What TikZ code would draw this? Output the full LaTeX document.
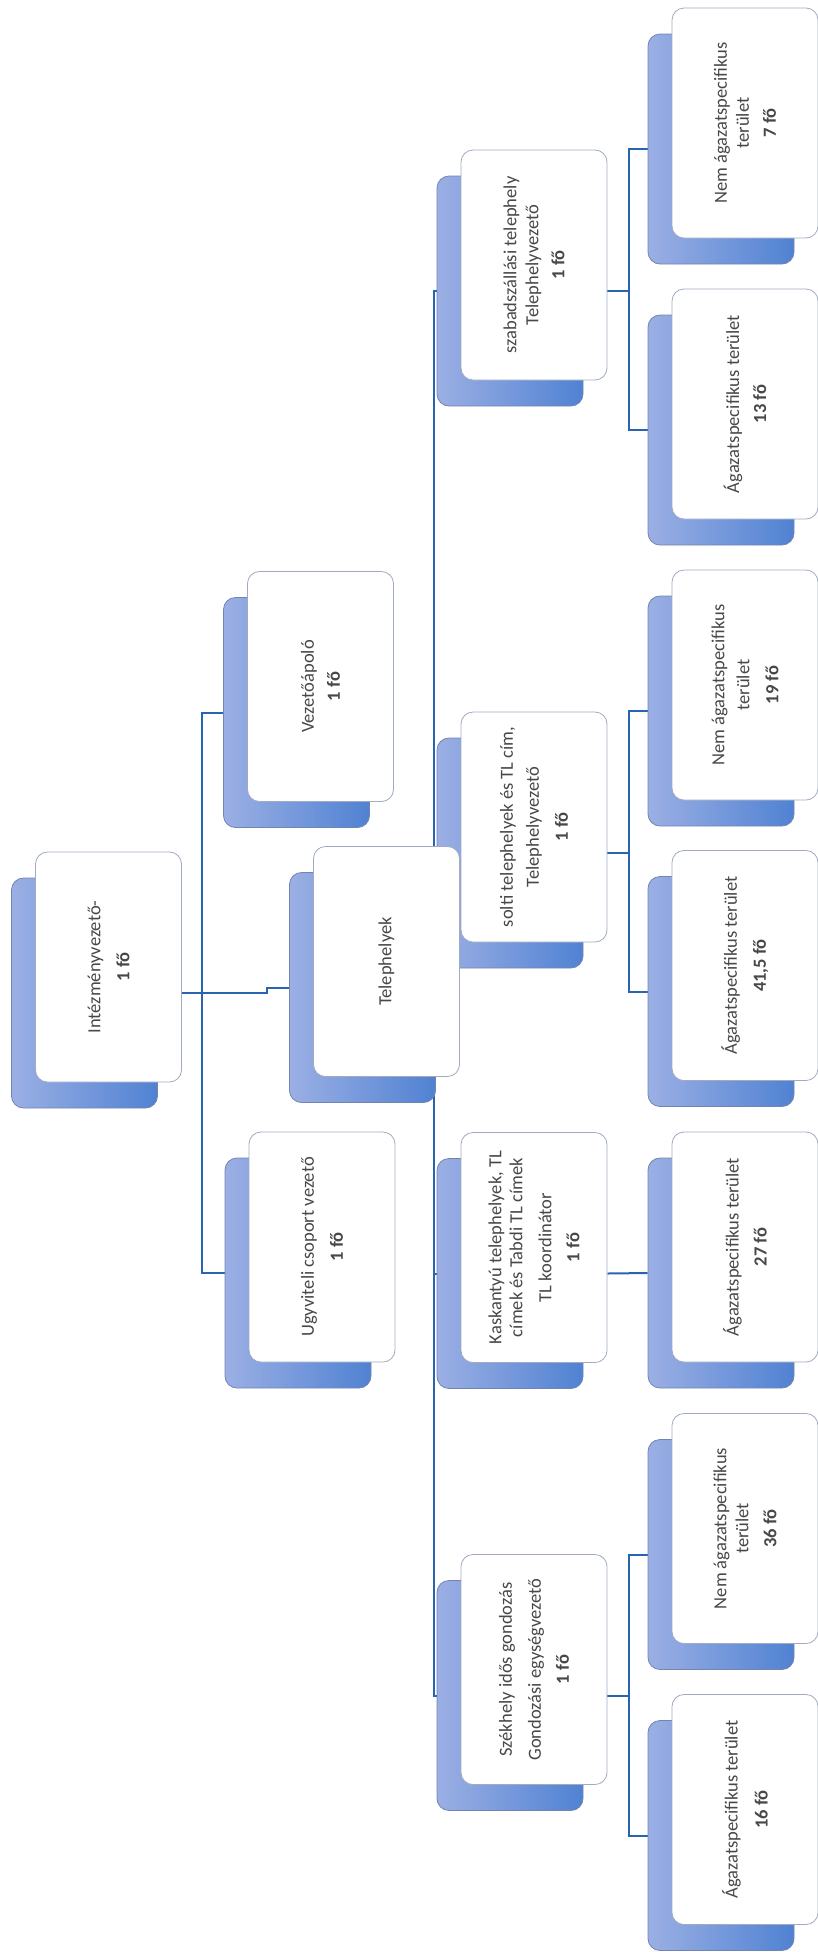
\documentclass[tikz,border=0pt]{standalone}
\usepackage{fontspec}
\setmainfont{Carlito}
\definecolor{linec}{RGB}{40,100,175}
\definecolor{shadL}{RGB}{155,175,228}
\definecolor{shadR}{RGB}{80,130,210}
\definecolor{shadB}{RGB}{115,132,178}
\definecolor{boxB}{RGB}{160,170,192}
\definecolor{txt}{RGB}{72,72,72}
\pgfdeclarelayer{bg}
\pgfsetlayers{bg,main}
\begin{document}
\begin{tikzpicture}[x=1pt,y=-1pt,
  shad/.style={draw=shadB, line width=0.8pt, left color=shadL, right color=shadR,
    rounded corners=12pt, minimum width=146pt, minimum height=230pt, inner sep=0pt},
  card/.style={draw=boxB, line width=0.8pt, fill=white, rounded corners=12pt,
    minimum width=146pt, minimum height=230pt, inner sep=0pt},
  lbl/.style={rotate=90, align=center, text=txt, inner sep=0pt,
    font=\fontsize{18.5}{22}\selectfont},
  conn/.style={draw=linec, line width=2pt}]
\useasboundingbox (0,0) rectangle (817,1952);

% ---------- helper coordinates for the connector buses
\coordinate (bus1) at (202,0);
\coordinate (jog)  at (267,0);
\coordinate (bus2) at (433.5,0);
\coordinate (bus3) at (629,0);

% ---------- column 1
\node[shad] (s-intez) at (84.5,993) {};
\node[card] (intez) at (108.5,967) {};
\node[lbl] (t-intez) at (intez.center) {Intézményvezető-\\[7pt]\textbf{1 fő}};

% ---------- column 2
\node[shad] (s-vezap) at (296.5,712.5) {};
\node[card] (vezap) at (320.5,686.5) {};
\node[lbl] (t-vezap) at (vezap.center) {Vezetőápoló\\[4pt]\textbf{1 fő}};

\node[shad] (s-ugyv) at (298,1273) {};
\node[card] (ugyv) at (322,1247) {};
\node[lbl] (t-ugyv) at (ugyv.center) {Ugyviteli csoport vezető\\[7pt]\textbf{1 fő}};

% ---------- column 3 (drawn before Telephelyek so that it covers the bus)
\node[shad] (s-szabad) at (510,291) {};
\node[card] (szabad) at (534,265) {};
\node[lbl] (t-szabad) at (szabad.center) {szabadszállási telephely\\Telephelyvezető\\[4pt]\textbf{1 fő}};

\node[shad] (s-solti) at (510,853) {};
\node[card] (solti) at (534,827) {};
\node[lbl] (t-solti) at (solti.center) {solti telephelyek és TL cím,\\[4pt]Telephelyvezető\\[7pt]\textbf{1 fő}};

\node[shad] (s-kask) at (510,1273.5) {};
\node[card] (kask) at (534,1247.5) {};
\node[lbl] (t-kask) at (kask.center) {Kaskantyú telephelyek, TL\\[-1pt]címek és Tabdi TL címek\\[7pt]TL koordinátor\\[6pt]\textbf{1 fő}};

\node[shad] (s-szekh) at (510,1695.5) {};
\node[card] (szekh) at (534,1669.5) {};
\node[lbl] (t-szekh) at (szekh.center) {Székhely idős gondozás\\[7pt]Gondozási egységvezető\\[6pt]\textbf{1 fő}};

% ---------- Telephelyek
\node[shad] (s-tele) at (362.5,987.5) {};
\node[card] (tele) at (386.5,961.5) {};
\node[lbl] (t-tele) at (tele.center) {Telephelyek};

% ---------- column 4
\node[shad] (s-nem7) at (721,149) {};
\node[card] (nem7) at (745,123) {};
\node[lbl] (t-nem7) at (nem7.center) {Nem ágazatspecifikus\\terület\\[5pt]\textbf{7 fő}};

\node[shad] (s-ag13) at (721,430) {};
\node[card] (ag13) at (745,404) {};
\node[lbl] (t-ag13) at (ag13.center) {Ágazatspecifikus terület\\[5pt]\textbf{13 fő}};

\node[shad] (s-nem19) at (721,711) {};
\node[card] (nem19) at (745,685) {};
\node[lbl] (t-nem19) at (nem19.center) {Nem ágazatspecifikus\\[3pt]terület\\[7pt]\textbf{19 fő}};

\node[shad] (s-ag41) at (721,991.5) {};
\node[card] (ag41) at (745,965.5) {};
\node[lbl] (t-ag41) at (ag41.center) {Ágazatspecifikus terület\\[7pt]\textbf{41,5 fő}};

\node[shad] (s-ag27) at (721,1273) {};
\node[card] (ag27) at (745,1247) {};
\node[lbl] (t-ag27) at (ag27.center) {Ágazatspecifikus terület\\[6pt]\textbf{27 fő}};

\node[shad] (s-nem36) at (721,1554.5) {};
\node[card] (nem36) at (745,1528.5) {};
\node[lbl] (t-nem36) at (nem36.center) {Nem ágazatspecifikus\\terület\\[6pt]\textbf{36 fő}};

\node[shad] (s-ag16) at (721,1835.5) {};
\node[card] (ag16) at (745,1809.5) {};
\node[lbl] (t-ag16) at (ag16.center) {Ágazatspecifikus terület\\[8pt]\textbf{16 fő}};

% ---------- connectors (behind the boxes)
\begin{pgfonlayer}{bg}
  % level 1 -> level 2
  \draw[conn] (s-vezap.west) -- (s-vezap.center -| bus1) -- (s-ugyv.center -| bus1) -- (s-ugyv.west);
  \draw[conn] (intez.east |- s-intez.center) -- (s-intez.center -| bus1);
  \draw[conn] (s-intez.center -| bus1) -- (s-intez.center -| jog) -- (s-tele.center -| jog) -- (s-tele.west);
  % Telephelyek -> sites
  \draw[conn] (s-szabad.west) -- (s-szabad.center -| bus2) -- (s-szekh.center -| bus2) -- (s-szekh.west);
  \draw[conn] (s-solti.west) -- (s-solti.center -| bus2);
  \draw[conn] (s-kask.west) -- (s-kask.center -| bus2);
  \draw[conn] (s-tele.center -| tele.east) -- (s-tele.center -| bus2);
  % sites -> areas
  \draw[conn] (szabad.east |- s-szabad.center) -- (s-szabad.center -| bus3);
  \draw[conn] (s-nem7.west) -- (s-nem7.center -| bus3) -- (s-ag13.center -| bus3) -- (s-ag13.west);
  \draw[conn] (solti.east |- s-solti.center) -- (s-solti.center -| bus3);
  \draw[conn] (s-nem19.west) -- (s-nem19.center -| bus3) -- (s-ag41.center -| bus3) -- (s-ag41.west);
  \draw[conn] (kask.east |- s-kask.center) -- (s-ag27.west);
  \draw[conn] (szekh.east |- s-szekh.center) -- (s-szekh.center -| bus3);
  \draw[conn] (s-nem36.west) -- (s-nem36.center -| bus3) -- (s-ag16.center -| bus3) -- (s-ag16.west);
\end{pgfonlayer}
\end{tikzpicture}
\end{document}
